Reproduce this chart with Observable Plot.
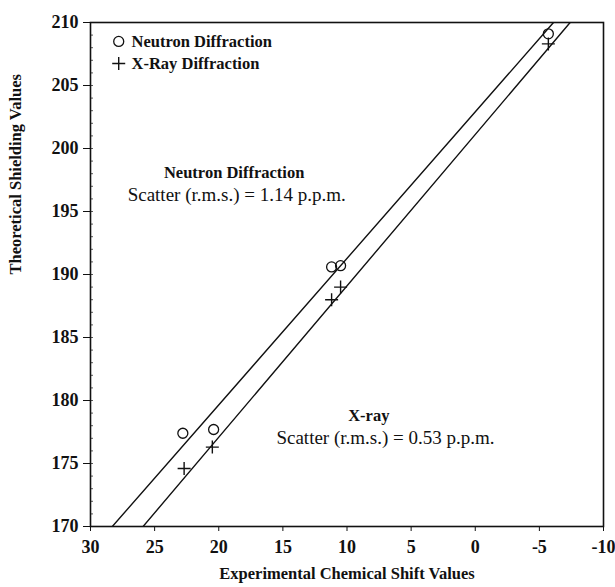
<!DOCTYPE html>
<html><head><meta charset="utf-8">
<script src="https://cdn.jsdelivr.net/npm/d3@7"></script>
<script src="https://cdn.jsdelivr.net/npm/@observablehq/plot@0.6"></script>
<style>body{margin:0;background:#fff}</style>
</head><body><div id="chart"></div>
<script>
// Data
const neutronX = [-5.7, 11.2, 10.5, 22.8, 20.4];
const neutronY = [209.1, 190.6, 190.7, 177.4, 177.7];
const xrayX = [-5.7, 10.5, 11.2, 20.5, 22.7];
const xrayY = [208.3, 189.0, 188.0, 176.3, 174.6];
const fitY = [170, 210];
const neutronFitX = [28.3, -6.1];
const xrayFitX = [25.9, -7.4];
const xTicks = [30, 25, 20, 15, 10, 5, 0, -5, -10];
const yTicks = [170, 175, 180, 185, 190, 195, 200, 205, 210];
const legendLabels = ["Neutron Diffraction", "X-Ray Diffraction"];

const neutron = neutronX.map((x, i) => ({x, y: neutronY[i]}));
const xray = xrayX.map((x, i) => ({x, y: xrayY[i]}));
const neutronFit = neutronFitX.map((x, i) => ({x, y: fitY[i]}));
const xrayFit = xrayFitX.map((x, i) => ({x, y: fitY[i]}));

const thinPlus = {
  draw(ctx, size) {
    const r = Math.sqrt(size / Math.PI);
    ctx.moveTo(-r, 0); ctx.lineTo(r, 0);
    ctx.moveTo(0, -r); ctx.lineTo(0, r);
  }
};

const serif = "Liberation Serif, Times New Roman, serif";

const chart = Plot.plot({
  width: 615,
  height: 587,
  marginLeft: 90,
  marginRight: 12,
  marginTop: 22,
  marginBottom: 61,
  style: {fontFamily: serif, fontSize: "15px", fontWeight: "bold", color: "#111", background: "#fff"},
  x: {domain: [30, -10], label: null},
  y: {domain: [170, 210], label: null},
  marks: [
    Plot.axisX({ticks: xTicks, tickSize: 5, tickPadding: 9, tickFormat: d => String(d), label: null, fontSize: 18, fontWeight: "bold", strokeWidth: 1}),
    Plot.axisY({ticks: yTicks, tickSize: 7, tickPadding: 5, tickFormat: d => String(d), label: null, fontSize: 18, fontWeight: "bold", strokeWidth: 1}),
    Plot.axisY({ticks: d3.range(170, 211, 1), tickSize: -3, text: null, label: null, strokeWidth: 0.7}),
    Plot.frame({stroke: "#111", strokeWidth: 1.6}),
    Plot.line(neutronFit, {x: "x", y: "y", stroke: "#111", strokeWidth: 1.4, clip: true}),
    Plot.line(xrayFit, {x: "x", y: "y", stroke: "#111", strokeWidth: 1.4, clip: true}),
    Plot.dot(neutron, {x: "x", y: "y", r: 5, stroke: "#111", strokeWidth: 1.3, fill: "none"}),
    Plot.dot(xray, {x: "x", y: "y", r: 6.5, symbol: thinPlus, stroke: "#111", strokeWidth: 1.4, fill: "none"}),
    // legend
    Plot.dot([legendLabels[0]], {x: 27.8, y: 208.5, r: 5, stroke: "#111", strokeWidth: 1.3, fill: "none"}),
    Plot.dot([legendLabels[1]], {x: 27.8, y: 206.75, r: 6.5, symbol: thinPlus, stroke: "#111", strokeWidth: 1.4}),
    Plot.text([legendLabels[0]], {x: 26.8, y: 208.5, text: d => d, textAnchor: "start", fontSize: 16.5, fontWeight: "bold", fill: "#111"}),
    Plot.text([legendLabels[1]], {x: 26.8, y: 206.75, text: d => d, textAnchor: "start", fontSize: 16.5, fontWeight: "bold", fill: "#111"}),
    // annotations
    Plot.text(["Neutron Diffraction"], {x: 18.8, y: 198.1, text: d => d, fontSize: 16.5, fontWeight: "bold", fill: "#111"}),
    Plot.text(["Scatter (r.m.s.) = 1.14 p.p.m."], {x: 18.6, y: 196.35, text: d => d, fontSize: 19, fontWeight: "normal", fill: "#111"}),
    Plot.text(["X-ray"], {x: 8.3, y: 178.8, text: d => d, fontSize: 16.5, fontWeight: "bold", fill: "#111"}),
    Plot.text(["Scatter (r.m.s.) = 0.53 p.p.m."], {x: 7.0, y: 177.0, text: d => d, fontSize: 19, fontWeight: "normal", fill: "#111"}),
    // axis titles
    Plot.text(["Experimental Chemical Shift Values"], {frameAnchor: "bottom", dy: 52, text: d => d, fontSize: 16.5, fontWeight: "bold", fill: "#111"}),
    Plot.text(["Theoretical Shielding Values"], {frameAnchor: "left", dx: -75, rotate: -90, text: d => d, fontSize: 16.5, fontWeight: "bold", fill: "#111"})
  ]
});
document.getElementById("chart").appendChild(chart);
</script>
</body></html>
